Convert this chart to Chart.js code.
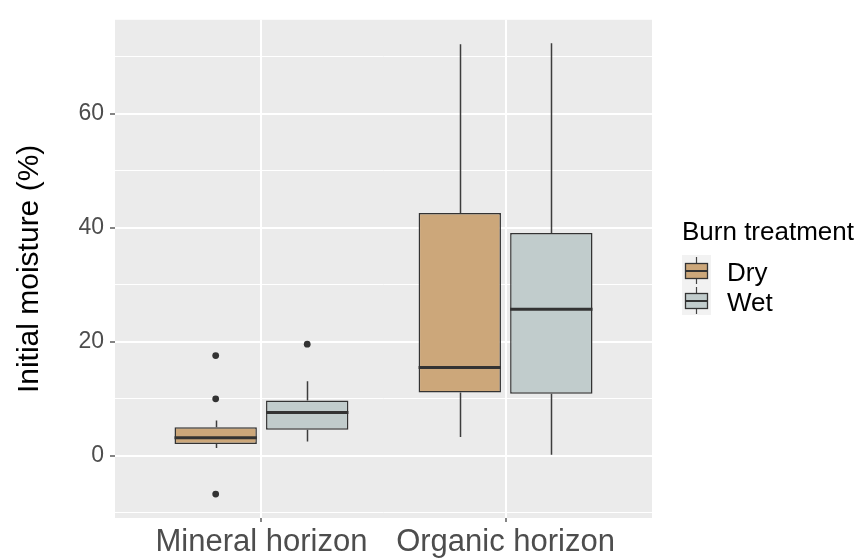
<!DOCTYPE html>
<html>
<head>
<meta charset="utf-8">
<script src="https://cdn.jsdelivr.net/npm/chart.js@4/dist/chart.umd.min.js"></script>
<style>
    html, body { margin: 0; padding: 0; background: #fff; }
    #wrap { width: 866px; height: 558px; }
</style>
</head>
<body>
<div id="wrap"><canvas id="moisture-chart"></canvas></div>
<script>
const categories = ["Mineral horizon", "Organic horizon"];
const treatments = ["Dry", "Wet"];

// box statistics per horizon: lower whisker, Q1, median, Q3, upper whisker
const dryLow = [1.4, 3.3];
const dryQ1 = [2.1, 11.1];
const dryMedian = [3.2, 15.5];
const dryQ3 = [5.0, 42.6];
const dryHigh = [6.2, 72.2];

const wetLow = [2.5, 0.2];
const wetQ1 = [4.6, 10.9];
const wetMedian = [7.6, 25.7];
const wetQ3 = [9.7, 39.1];
const wetHigh = [13.1, 72.4];

const dryOutliers = [[17.6, 10.0, -6.7], []];
const wetOutliers = [[19.6], []];

const yMajor = [0, 20, 40, 60];
const yMinor = [-10, 10, 30, 50, 70];

const colors = { Dry: "#cca77a", Wet: "#c1cccc" };
const FONT = "'Liberation Sans', Arial, sans-serif";
const DODGE = 0.1875; // position_dodge(0.75) / 4

const boxes = [
    { low: dryLow, q1: dryQ1, med: dryMedian, q3: dryQ3, high: dryHigh },
    { low: wetLow, q1: wetQ1, med: wetMedian, q3: wetQ3, high: wetHigh },
];

function outlierPoints(list, shift) {
    const pts = [];
    list.forEach((vals, i) => vals.forEach(v => pts.push({ x: i + 1 + shift, y: v })));
    return pts;
}

const panelBg = {
    id: "panelBg",
    beforeDraw(chart) {
        const { ctx, chartArea: a } = chart;
        ctx.save();
        ctx.fillStyle = "#ebebeb";
        ctx.fillRect(a.left, a.top, a.right - a.left, a.bottom - a.top);
        ctx.restore();
    },
};

// whiskers and median lines on top of the floating bars
const boxParts = {
    id: "boxParts",
    afterDatasetsDraw(chart) {
        const { ctx } = chart;
        const y = chart.scales.y;
        ctx.save();
        boxes.forEach((b, d) => {
            const meta = chart.getDatasetMeta(d);
            meta.data.forEach((bar, i) => {
                const cx = Math.round(bar.x) + 0.5;
                ctx.strokeStyle = "#3d3d3d";
                ctx.lineWidth = 1.5;
                ctx.beginPath();
                ctx.moveTo(cx, y.getPixelForValue(b.q3[i]));
                ctx.lineTo(cx, y.getPixelForValue(b.high[i]));
                ctx.moveTo(cx, y.getPixelForValue(b.q1[i]));
                ctx.lineTo(cx, y.getPixelForValue(b.low[i]));
                ctx.stroke();

                const my = y.getPixelForValue(b.med[i]);
                ctx.strokeStyle = "#333";
                ctx.lineWidth = 3;
                ctx.beginPath();
                ctx.moveTo(bar.x - bar.width / 2, my);
                ctx.lineTo(bar.x + bar.width / 2, my);
                ctx.stroke();
            });
        });
        ctx.restore();
    },
};

const boxLegend = {
    id: "boxLegend",
    afterDraw(chart) {
        const { ctx } = chart;
        ctx.save();
        ctx.fillStyle = "#000";
        ctx.font = `26px ${FONT}`;
        ctx.textBaseline = "alphabetic";
        ctx.fillText("Burn treatment", 682, 240);

        treatments.forEach((t, k) => {
            const top = 255 + k * 30;
            ctx.fillStyle = "#f2f2f2";
            ctx.fillRect(682, top, 29, 30);

            ctx.strokeStyle = "#444";
            ctx.lineWidth = 1.2;
            ctx.beginPath();
            ctx.moveTo(696.5, top + 2);
            ctx.lineTo(696.5, top + 8);
            ctx.moveTo(696.5, top + 23);
            ctx.lineTo(696.5, top + 29);
            ctx.stroke();

            ctx.fillStyle = colors[t];
            ctx.fillRect(685.5, top + 8.5, 22, 15);
            ctx.strokeStyle = "#333";
            ctx.lineWidth = 1.3;
            ctx.strokeRect(685.5, top + 8.5, 22, 15);
            ctx.lineWidth = 2;
            ctx.beginPath();
            ctx.moveTo(685.5, top + 16);
            ctx.lineTo(707.5, top + 16);
            ctx.stroke();

            ctx.fillStyle = "#000";
            ctx.fillText(t, 727, top + 26);
        });
        ctx.restore();
    },
};

const boxDataset = (t, b) => ({
    type: "bar",
    label: t,
    data: categories.map((c, k) => ({ x: k + 1, y: [b.q1[k], b.q3[k]] })),
    backgroundColor: colors[t],
    borderColor: "#333",
    borderWidth: 1.5,
    borderSkipped: false,
    categoryPercentage: 0.75,
    barPercentage: 0.9,
    order: 1,
});

const outlierDataset = (t, list, shift) => ({
    type: "scatter",
    label: t + " outliers",
    data: outlierPoints(list, shift),
    backgroundColor: "#333",
    borderWidth: 0,
    pointRadius: 3.4,
    order: 0,
});

new Chart(document.getElementById("moisture-chart"), {
    type: "bar",
    data: {
        datasets: [
            boxDataset("Dry", boxes[0]),
            boxDataset("Wet", boxes[1]),
            outlierDataset("Dry", dryOutliers, -DODGE),
            outlierDataset("Wet", wetOutliers, DODGE),
        ],
    },
    options: {
        responsive: true,
        maintainAspectRatio: false,
        animation: false,
        layout: { padding: { top: 14, right: 214, left: 0, bottom: 0 } },
        plugins: { legend: { display: false }, tooltip: { enabled: false } },
        scales: {
            x: {
                type: "linear",
                offset: false,
                min: 0.4,
                max: 2.6,
                afterBuildTicks: axis => { axis.ticks = categories.map((c, i) => ({ value: i + 1 })); },
                afterFit: axis => { axis.height = 40; },
                ticks: {
                    autoSkip: false,
                    maxRotation: 0,
                    padding: 2,
                    color: "#4d4d4d",
                    font: { family: FONT, size: 31 },
                    callback: (v, i) => categories[i],
                },
                grid: { offset: false, color: "#fff", lineWidth: 2, tickColor: "#333", tickLength: 4, tickWidth: 1.2 },
                border: { display: false },
            },
            y: {
                min: -10.9,
                max: 76.5,
                afterBuildTicks: axis => {
                    axis.ticks = yMinor.concat(yMajor).sort((a, b) => a - b).map(v => ({ value: v }));
                },
                afterFit: axis => { axis.width = 115; },
                ticks: {
                    padding: 6,
                    color: "#4d4d4d",
                    font: { family: FONT, size: 23 },
                    callback: v => (yMajor.includes(v) ? String(v) : ""),
                },
                grid: {
                    color: "#fff",
                    lineWidth: c => (yMajor.includes(c.tick.value) ? 2 : 1),
                    tickColor: c => (yMajor.includes(c.tick.value) ? "#333" : "rgba(0,0,0,0)"),
                    tickLength: 5,
                    tickWidth: 1.2,
                },
                border: { display: false },
                title: {
                    display: true,
                    text: "Initial moisture (%)",
                    color: "#000",
                    font: { family: FONT, size: 30 },
                    padding: { top: 12, bottom: 0 },
                },
            },
        },
    },
    plugins: [panelBg, boxParts, boxLegend],
});
</script>
</body>
</html>
